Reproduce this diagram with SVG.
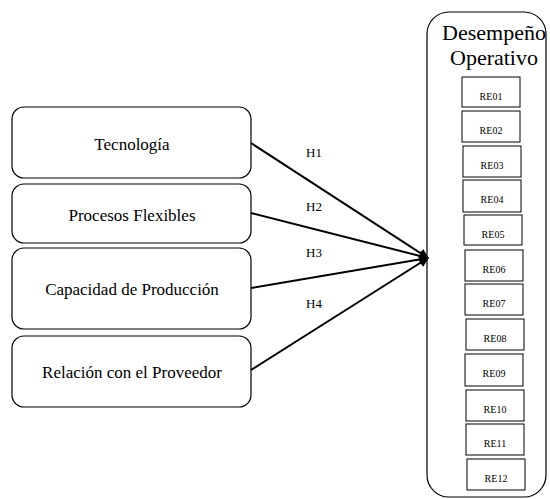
<svg xmlns="http://www.w3.org/2000/svg" width="550" height="499" viewBox="0 0 550 499" font-family="Liberation Serif, DejaVu Serif, serif">
<style>
.box{fill:#fff;stroke:#000;stroke-width:1.2}
.re{fill:#fff;stroke:#000;stroke-width:1}
text{fill:#000;text-anchor:middle}
.lbl{font-size:17px}
.h{font-size:13px}
.rt{font-size:10px}
.title{font-size:22px}
.conn{stroke:#000;stroke-width:2;fill:none}
</style>
<defs>
<marker id="arr" viewBox="0 0 10 10" refX="9" refY="5" markerWidth="5" markerHeight="5" orient="auto" markerUnits="strokeWidth">
<path d="M0,0 L10,5 L0,10 Z" fill="#000"/>
</marker>
</defs>
<g id="desempeno">
<rect class="box" x="427" y="12" width="119" height="485" rx="22"/>
<text class="title" x="494" y="40" font-family="Liberation Serif">Desempeño</text>
<text class="title" x="494" y="65" font-family="Liberation Serif">Operativo</text>
</g>
<g id="re01"><rect class="re" x="462" y="77" width="58" height="30"/><text class="rt" x="491" y="100">RE01</text></g>
<g id="re02"><rect class="re" x="462" y="111" width="58" height="31"/><text class="rt" x="491" y="134">RE02</text></g>
<g id="re03"><rect class="re" x="463" y="146" width="58" height="31"/><text class="rt" x="492" y="169">RE03</text></g>
<g id="re04"><rect class="re" x="463" y="180" width="58" height="32"/><text class="rt" x="492" y="203">RE04</text></g>
<g id="re05"><rect class="re" x="464" y="215" width="58" height="30"/><text class="rt" x="493" y="238">RE05</text></g>
<g id="re06"><rect class="re" x="465" y="250" width="58" height="31"/><text class="rt" x="494" y="273">RE06</text></g>
<g id="re07"><rect class="re" x="465" y="284" width="58" height="31"/><text class="rt" x="494" y="307">RE07</text></g>
<g id="re08"><rect class="re" x="466" y="319" width="58" height="31"/><text class="rt" x="495" y="342">RE08</text></g>
<g id="re09"><rect class="re" x="465" y="354" width="58" height="32"/><text class="rt" x="494" y="377">RE09</text></g>
<g id="re10"><rect class="re" x="466" y="390" width="58" height="31"/><text class="rt" x="495" y="413">RE10</text></g>
<g id="re11"><rect class="re" x="466" y="424" width="58" height="31"/><text class="rt" x="495" y="447">RE11</text></g>
<g id="re12"><rect class="re" x="467" y="459" width="58" height="31"/><text class="rt" x="496" y="482">RE12</text></g>
<g id="tecnologia"><rect class="box" x="12" y="107" width="239" height="71" rx="12"/><text class="lbl" x="132" y="150">Tecnología</text></g>
<g id="procesos"><rect class="box" x="12" y="184" width="239" height="59" rx="12"/><text class="lbl" x="132" y="221">Procesos Flexibles</text></g>
<g id="capacidad"><rect class="box" x="12" y="248" width="239" height="81" rx="12"/><text class="lbl" x="132" y="295">Capacidad de Producción</text></g>
<g id="relacion"><rect class="box" x="12" y="336" width="239" height="71" rx="12"/><text class="lbl" x="132" y="378">Relación con el Proveedor</text></g>
<g id="connectors">
<line class="conn" x1="251" y1="143" x2="428" y2="258" marker-end="url(#arr)"/>
<line class="conn" x1="251" y1="213" x2="428" y2="258" marker-end="url(#arr)"/>
<line class="conn" x1="251" y1="288" x2="428" y2="258" marker-end="url(#arr)"/>
<line class="conn" x1="251" y1="370" x2="428" y2="258" marker-end="url(#arr)"/>
<text class="h" x="314" y="157">H1</text>
<text class="h" x="314" y="211">H2</text>
<text class="h" x="314" y="257">H3</text>
<text class="h" x="314" y="308">H4</text>
</g>
</svg>
